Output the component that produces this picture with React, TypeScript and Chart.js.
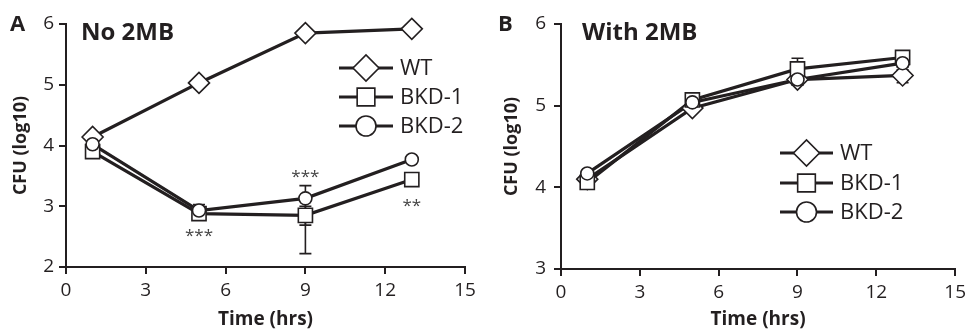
import React, { useEffect, useRef } from 'react';
import { Chart, registerables } from 'chart.js';

Chart.register(...registerables);

// ---------- data ----------
const timeHrs = [1, 5, 9, 13];
const seriesLabels = ['WT', 'BKD-1', 'BKD-2'];
const xTicks = [0, 3, 6, 9, 12, 15];

// Panel A: No 2MB
const aWT = [4.14, 5.03, 5.85, 5.92];
const aWTLow = [4.11, 5.0, 5.82, 5.89];
const aWTHigh = [4.17, 5.06, 5.88, 5.95];
const aBKD1 = [3.9, 2.88, 2.85, 3.44];
const aBKD1Low = [3.86, 2.83, 2.22, 3.38];
const aBKD1High = [3.95, 2.95, 3.0, 3.5];
const aBKD2 = [4.02, 2.93, 3.13, 3.77];
const aBKD2Low = [3.98, 2.86, 2.69, 3.72];
const aBKD2High = [4.06, 3.03, 3.34, 3.82];
const aStarX = [5, 9, 13];
const aStarY = [2.6, 3.57, 3.09];
const aStarText = ['***', '***', '**'];

// Panel B: With 2MB
const bWT = [4.1, 4.97, 5.32, 5.37];
const bWTLow = [4.07, 4.93, 5.25, 5.28];
const bWTHigh = [4.13, 5.01, 5.38, 5.44];
const bBKD1 = [4.06, 5.07, 5.45, 5.59];
const bBKD1Low = [4.03, 5.03, 5.34, 5.55];
const bBKD1High = [4.09, 5.11, 5.58, 5.63];
const bBKD2 = [4.17, 5.04, 5.32, 5.52];
const bBKD2Low = [4.13, 5.0, 5.26, 5.47];
const bBKD2High = [4.21, 5.08, 5.38, 5.57];

// ---------- styling ----------
const FONT = '"Open Sans", sans-serif';
const INK = '#231f20';
const markerStyles = ['diamond', 'square', 'circle'];
const markerRadius = [10.5, 10, 6.5];

function drawMarker(ctx: CanvasRenderingContext2D, style: string, x: number, y: number, r: number) {
  ctx.beginPath();
  if (style === 'diamond') {
    ctx.moveTo(x - r, y);
    ctx.lineTo(x, y - r);
    ctx.lineTo(x + r, y);
    ctx.lineTo(x, y + r);
    ctx.closePath();
  } else if (style === 'square') {
    const s = r * Math.SQRT1_2;
    ctx.rect(x - s, y - s, 2 * s, 2 * s);
  } else {
    ctx.arc(x, y, r, 0, Math.PI * 2);
  }
  ctx.fillStyle = '#fff';
  ctx.fill();
  ctx.lineWidth = 1.6;
  ctx.strokeStyle = INK;
  ctx.stroke();
}

const errorBarPlugin = {
  id: 'errorBars',
  afterDatasetsDraw(chart: any) {
    const ctx = chart.ctx;
    const ys = chart.scales.y;
    ctx.save();
    ctx.strokeStyle = INK;
    ctx.lineWidth = 1.6;
    chart.data.datasets.forEach((ds: any, i: number) => {
      const meta = chart.getDatasetMeta(i);
      meta.data.forEach((pt: any, j: number) => {
        const lo = ys.getPixelForValue(ds.errLow[j]);
        const hi = ys.getPixelForValue(ds.errHigh[j]);
        ctx.beginPath();
        ctx.moveTo(pt.x, lo);
        ctx.lineTo(pt.x, hi);
        ctx.moveTo(pt.x - 6, lo);
        ctx.lineTo(pt.x + 6, lo);
        ctx.moveTo(pt.x - 6, hi);
        ctx.lineTo(pt.x + 6, hi);
        ctx.stroke();
      });
    });
    ctx.restore();
  },
};

const markerPlugin = {
  id: 'markers',
  afterDatasetsDraw(chart: any) {
    const ctx = chart.ctx;
    ctx.save();
    chart.data.datasets.forEach((ds: any, i: number) => {
      const meta = chart.getDatasetMeta(i);
      meta.data.forEach((pt: any) => drawMarker(ctx, ds.marker, pt.x, pt.y, markerRadius[i]));
    });
    ctx.restore();
  },
};

const decoPlugin = {
  id: 'deco',
  afterDraw(chart: any, _args: any, opts: any) {
    const ctx = chart.ctx;
    const xs = chart.scales.x;
    const ys = chart.scales.y;
    ctx.save();
    ctx.fillStyle = INK;
    ctx.textBaseline = 'middle';
    ctx.textAlign = 'left';
    // panel letter and title
    ctx.font = `bold 22px ${FONT}`;
    ctx.fillText(opts.letter, opts.letterX, opts.letterY);
    ctx.font = `bold 24px ${FONT}`;
    ctx.fillText(opts.title, opts.titleX, opts.titleY);
    // legend
    const lg = opts.legend;
    chart.data.datasets.forEach((ds: any, i: number) => {
      const y = lg.rows[i];
      ctx.beginPath();
      ctx.strokeStyle = INK;
      ctx.lineWidth = 3.2;
      ctx.moveTo(lg.x1, y);
      ctx.lineTo(lg.x2, y);
      ctx.stroke();
      const r = ds.marker === 'diamond' ? 13 : ds.marker === 'square' ? 12.5 : 10;
      drawMarker(ctx, ds.marker, (lg.x1 + lg.x2) / 2, y, r);
      ctx.fillStyle = INK;
      ctx.font = `22px ${FONT}`;
      ctx.fillText(ds.label, lg.textX, y + 1);
    });
    // significance stars
    if (opts.starX) {
      ctx.font = `17px ${FONT}`;
      ctx.fillStyle = '#444';
      ctx.textAlign = 'center';
      ctx.textBaseline = 'alphabetic';
      opts.starX.forEach((sx: number, k: number) => {
        ctx.fillText(opts.starText[k], xs.getPixelForValue(sx), ys.getPixelForValue(opts.starY[k]) + 10);
      });
    }
    ctx.restore();
  },
};

function makeDatasets(values: number[][], lows: number[][], highs: number[][]) {
  return values.map((vals, i) => ({
    label: seriesLabels[i],
    data: timeHrs.map((t, j) => ({ x: t, y: vals[j] })),
    errLow: lows[i],
    errHigh: highs[i],
    marker: markerStyles[i],
    borderColor: INK,
    borderWidth: 3.2,
    pointRadius: 0,
    tension: 0,
  }));
}

function buildConfig(p: any) {
  return {
    type: 'line',
    data: { datasets: makeDatasets(p.values, p.lows, p.highs) },
    options: {
      responsive: false,
      animation: false,
      events: [],
      layout: { padding: { top: 24, right: p.rightPad, bottom: 0, left: 0 } },
      plugins: {
        legend: { display: false },
        tooltip: { enabled: false },
        deco: p.deco,
      },
      scales: {
        x: {
          type: 'linear',
          min: 0,
          max: 15,
          afterBuildTicks: (s: any) => { s.ticks = xTicks.map((v) => ({ value: v })); },
          afterFit: (s: any) => { s.height = p.xAxisHeight; },
          ticks: { color: INK, font: { family: FONT, size: 19 }, padding: 5, maxRotation: 0 },
          grid: { display: true, drawOnChartArea: false, drawTicks: true, tickLength: 7, color: INK, lineWidth: 2 },
          border: { display: true, color: INK, width: 2 },
          title: { display: true, text: 'Time (hrs)', color: INK, font: { family: FONT, size: 19, weight: 'bold' }, padding: { top: 0, bottom: 0 } },
        },
        y: {
          min: p.yMin,
          max: p.yMax,
          afterFit: (s: any) => { s.width = p.yAxisWidth; },
          ticks: { stepSize: 1, color: INK, font: { family: FONT, size: 19 }, padding: p.yTickPad },
          grid: { display: true, drawOnChartArea: false, drawTicks: true, tickLength: 7, color: INK, lineWidth: 2 },
          border: { display: true, color: INK, width: 2 },
          title: { display: true, text: 'CFU (log10)', color: INK, font: { family: FONT, size: 18, weight: 'bold' }, padding: { top: p.yTitlePad, bottom: 0 } },
        },
      },
    },
    plugins: [errorBarPlugin, markerPlugin, decoPlugin],
  };
}

const panelA = {
  values: [aWT, aBKD1, aBKD2],
  lows: [aWTLow, aBKD1Low, aBKD2Low],
  highs: [aWTHigh, aBKD1High, aBKD2High],
  yMin: 2, yMax: 6, yAxisWidth: 66, yTickPad: 5, yTitlePad: 10, rightPad: 20, xAxisHeight: 64,
  deco: {
    letter: 'A', letterX: 10, letterY: 25,
    title: 'No 2MB', titleX: 81, titleY: 33,
    legend: { x1: 339, x2: 393, textX: 400, rows: [68, 97, 126] },
    starX: aStarX, starY: aStarY, starText: aStarText,
  },
};

const panelB = {
  values: [bWT, bBKD1, bBKD2],
  lows: [bWTLow, bBKD1Low, bBKD2Low],
  highs: [bWTHigh, bBKD1High, bBKD2High],
  yMin: 3, yMax: 6, yAxisWidth: 76, yTickPad: 8, yTitlePad: 16, rightPad: 14, xAxisHeight: 62,
  deco: {
    letter: 'B', letterX: 13, letterY: 25,
    title: 'With 2MB', titleX: 97, titleY: 33,
    legend: { x1: 295, x2: 348, textX: 355, rows: [153, 183, 212] },
  },
};

function Panel({ spec, width, left }: { spec: any; width: number; left: number }) {
  const ref = useRef<HTMLCanvasElement | null>(null);
  useEffect(() => {
    if (!ref.current) return;
    const chart = new Chart(ref.current, buildConfig(spec) as any);
    return () => chart.destroy();
  }, [spec]);
  return (
    <canvas
      ref={ref}
      width={width}
      height={331}
      style={{ position: 'absolute', left, top: 0, width, height: 331 }}
    />
  );
}

export default function App() {
  return (
    <div style={{ position: 'fixed', left: 0, top: 0, width: 971, height: 331, background: '#fff' }}>
      <Panel spec={panelA} width={485} left={0} />
      <Panel spec={panelB} width={486} left={485} />
    </div>
  );
}
